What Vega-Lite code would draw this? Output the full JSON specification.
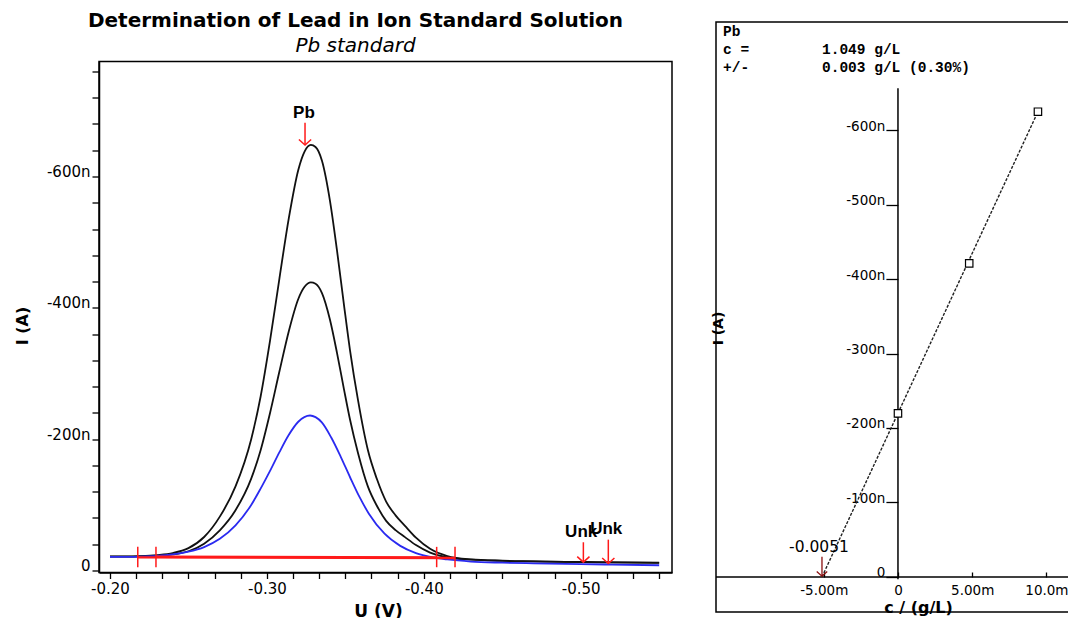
{
  "$schema": "https://vega.github.io/schema/vega-lite/v6.json",
  "autosize": {"type": "none"},
  "padding": {"left": 99, "top": 22, "right": 969, "bottom": 596},
  "background": "white",
  "bounds": "flush",
  "center": true,
  "spacing": 44,
  "datasets": {
    "curves": [
      {"U": -0.200, "I": -21.5, "s": "A"}, {"U": -0.210, "I": -21.5, "s": "A"}, {"U": -0.220, "I": -22.0, "s": "A"},
      {"U": -0.230, "I": -23.5, "s": "A"}, {"U": -0.240, "I": -26.5, "s": "A"}, {"U": -0.250, "I": -34.0, "s": "A"},
      {"U": -0.260, "I": -51.0, "s": "A"}, {"U": -0.270, "I": -82.0, "s": "A"}, {"U": -0.280, "I": -128.0, "s": "A"},
      {"U": -0.290, "I": -200.0, "s": "A"}, {"U": -0.296, "I": -265.0, "s": "A"}, {"U": -0.302, "I": -350.0, "s": "A"},
      {"U": -0.308, "I": -445.0, "s": "A"}, {"U": -0.314, "I": -537.0, "s": "A"}, {"U": -0.320, "I": -610.0, "s": "A"},
      {"U": -0.324, "I": -638.0, "s": "A"}, {"U": -0.328, "I": -648.0, "s": "A"}, {"U": -0.331, "I": -645.0, "s": "A"},
      {"U": -0.3351, "I": -624.0, "s": "A"}, {"U": -0.3402, "I": -563.0, "s": "A"}, {"U": -0.3447, "I": -487.0, "s": "A"},
      {"U": -0.3491, "I": -405.0, "s": "A"}, {"U": -0.353, "I": -335.0, "s": "A"}, {"U": -0.3581, "I": -259.0, "s": "A"},
      {"U": -0.3644, "I": -183.0, "s": "A"}, {"U": -0.370, "I": -140.0, "s": "A"}, {"U": -0.376, "I": -105.0, "s": "A"},
      {"U": -0.382, "I": -84.0, "s": "A"}, {"U": -0.388, "I": -68.0, "s": "A"}, {"U": -0.395, "I": -50.0, "s": "A"},
      {"U": -0.404, "I": -33.0, "s": "A"}, {"U": -0.415, "I": -22.0, "s": "A"}, {"U": -0.430, "I": -17.0, "s": "A"},
      {"U": -0.450, "I": -15.0, "s": "A"}, {"U": -0.470, "I": -14.0, "s": "A"}, {"U": -0.490, "I": -13.0, "s": "A"},
      {"U": -0.510, "I": -12.5, "s": "A"}, {"U": -0.530, "I": -12.0, "s": "A"}, {"U": -0.550, "I": -11.5, "s": "A"},
      {"U": -0.200, "I": -21.0, "s": "B"}, {"U": -0.210, "I": -21.0, "s": "B"}, {"U": -0.220, "I": -21.5, "s": "B"},
      {"U": -0.230, "I": -22.4, "s": "B"}, {"U": -0.240, "I": -24.4, "s": "B"}, {"U": -0.250, "I": -29.3, "s": "B"},
      {"U": -0.260, "I": -40.8, "s": "B"}, {"U": -0.270, "I": -61.2, "s": "B"}, {"U": -0.280, "I": -91.8, "s": "B"},
      {"U": -0.290, "I": -139.9, "s": "B"}, {"U": -0.296, "I": -183.2, "s": "B"}, {"U": -0.302, "I": -239.9, "s": "B"},
      {"U": -0.308, "I": -303.3, "s": "B"}, {"U": -0.314, "I": -364.8, "s": "B"}, {"U": -0.320, "I": -413.5, "s": "B"},
      {"U": -0.324, "I": -432.0, "s": "B"}, {"U": -0.328, "I": -438.7, "s": "B"}, {"U": -0.331, "I": -436.7, "s": "B"},
      {"U": -0.3351, "I": -422.5, "s": "B"}, {"U": -0.3402, "I": -381.9, "s": "B"}, {"U": -0.3447, "I": -331.1, "s": "B"},
      {"U": -0.3491, "I": -276.3, "s": "B"}, {"U": -0.353, "I": -229.5, "s": "B"}, {"U": -0.3581, "I": -178.7, "s": "B"},
      {"U": -0.3644, "I": -127.8, "s": "B"}, {"U": -0.370, "I": -99.0, "s": "B"}, {"U": -0.376, "I": -75.6, "s": "B"},
      {"U": -0.382, "I": -61.5, "s": "B"}, {"U": -0.388, "I": -50.8, "s": "B"}, {"U": -0.395, "I": -38.7, "s": "B"},
      {"U": -0.404, "I": -27.3, "s": "B"}, {"U": -0.415, "I": -19.8, "s": "B"}, {"U": -0.430, "I": -16.4, "s": "B"},
      {"U": -0.450, "I": -14.6, "s": "B"}, {"U": -0.470, "I": -13.8, "s": "B"}, {"U": -0.490, "I": -13.2, "s": "B"},
      {"U": -0.510, "I": -12.8, "s": "B"}, {"U": -0.530, "I": -12.4, "s": "B"}, {"U": -0.550, "I": -12.0, "s": "B"},
      {"U": -0.200, "I": -20.6, "s": "C"}, {"U": -0.210, "I": -20.7, "s": "C"}, {"U": -0.220, "I": -21.2, "s": "C"},
      {"U": -0.230, "I": -22.3, "s": "C"}, {"U": -0.240, "I": -24.5, "s": "C"}, {"U": -0.250, "I": -28.6, "s": "C"},
      {"U": -0.260, "I": -35.7, "s": "C"}, {"U": -0.270, "I": -48.2, "s": "C"}, {"U": -0.280, "I": -68.7, "s": "C"},
      {"U": -0.290, "I": -99.8, "s": "C"}, {"U": -0.296, "I": -124.7, "s": "C"}, {"U": -0.302, "I": -151.6, "s": "C"},
      {"U": -0.308, "I": -180.3, "s": "C"}, {"U": -0.314, "I": -206.7, "s": "C"}, {"U": -0.320, "I": -226.5, "s": "C"},
      {"U": -0.3275, "I": -236.0, "s": "C"}, {"U": -0.331, "I": -233.5, "s": "C"}, {"U": -0.335, "I": -225.5, "s": "C"},
      {"U": -0.341, "I": -202.5, "s": "C"}, {"U": -0.347, "I": -173.5, "s": "C"}, {"U": -0.353, "I": -142.0, "s": "C"},
      {"U": -0.359, "I": -112.0, "s": "C"}, {"U": -0.365, "I": -86.5, "s": "C"}, {"U": -0.375, "I": -56.0, "s": "C"},
      {"U": -0.385, "I": -37.5, "s": "C"}, {"U": -0.395, "I": -26.5, "s": "C"}, {"U": -0.405, "I": -20.3, "s": "C"},
      {"U": -0.415, "I": -16.8, "s": "C"}, {"U": -0.430, "I": -13.6, "s": "C"}, {"U": -0.450, "I": -11.9, "s": "C"},
      {"U": -0.470, "I": -10.9, "s": "C"}, {"U": -0.500, "I": -9.7, "s": "C"}, {"U": -0.520, "I": -9.0, "s": "C"},
      {"U": -0.550, "I": -8.0, "s": "C"}
    ],
    "baselines": [
      {"U": -0.2177, "I": -20.0, "g": "1"}, {"U": -0.4199, "I": -19.0, "g": "1"},
      {"U": -0.2293, "I": -21.0, "g": "2"}, {"U": -0.4082, "I": -20.0, "g": "2"}
    ],
    "limits": [
      {"U": -0.2177, "lo": -36, "hi": -5}, {"U": -0.2293, "lo": -36, "hi": -5},
      {"U": -0.4082, "lo": -36, "hi": -5}, {"U": -0.4199, "lo": -36, "hi": -5}
    ],
    "peaks": [
      {"U": -0.3243, "top": -682, "tip": -648, "name": "Pb", "labelU": -0.3236, "labelI": -697},
      {"U": -0.5017, "top": -43, "tip": -12.7, "name": "Unk", "labelU": -0.5003, "labelI": -58},
      {"U": -0.5176, "top": -47, "tip": -10.7, "name": "Unk", "labelU": -0.5163, "labelI": -62.5}
    ],
    "calib": [
      {"c": 0.0, "I": -219.7}, {"c": 4.8, "I": -421.0}, {"c": 9.43, "I": -624.6}
    ],
    "fit": [
      {"c": -5.12, "I": 0.0}, {"c": 9.43, "I": -624.6}
    ],
    "axislines": [
      {"c": 0.0, "c2": 0.0, "I": -656, "I2": 3},
      {"c": -12.26, "c2": 11.6, "I": 0, "I2": 0}
    ],
    "result": [
      {"c": -5.12, "top": -27, "tip": -1, "label": "-0.0051", "labelC": -5.32, "labelI": -40}
    ],
    "header": [
      {"c": -11.79, "I": -731.5, "t": "Pb"},
      {"c": -11.79, "I": -707, "t": "c ="},
      {"c": -11.79, "I": -683, "t": "+/-"},
      {"c": -5.12, "I": -707, "t": "1.049 g/L"},
      {"c": -5.12, "I": -683, "t": "0.003 g/L (0.30%)"}
    ]
  },
  "hconcat": [
    {
      "width": 573,
      "height": 511,
      "view": {"stroke": "black", "strokeWidth": 1.5},
      "title": {
        "text": "Determination of Lead in Ion Standard Solution",
        "subtitle": "Pb standard",
        "anchor": "middle",
        "dx": -30,
        "offset": 3,
        "font": "DejaVu Sans",
        "fontSize": 20,
        "fontWeight": "bold",
        "color": "black",
        "subtitleFont": "DejaVu Sans",
        "subtitleFontSize": 20,
        "subtitleFontStyle": "italic",
        "subtitleColor": "black",
        "subtitlePadding": 5
      },
      "layer": [
        {
          "data": {"name": "curves"},
          "mark": {"type": "line", "strokeWidth": 1.8, "interpolate": "monotone"},
          "encoding": {
            "x": {
              "field": "U", "type": "quantitative",
              "scale": {"domain": [-0.19299, -0.55819], "nice": false, "zero": false},
              "axis": {
                "values": [-0.2, -0.216667, -0.233333, -0.25, -0.266667, -0.283333, -0.3, -0.316667, -0.333333, -0.35, -0.366667, -0.383333, -0.4, -0.416667, -0.433333, -0.45, -0.466667, -0.483333, -0.5, -0.516667, -0.533333, -0.55],
                "tickCount": 100,
                "labelExpr": "abs(round(datum.value*100) % 10) == 0 ? '-0.' + toString(-round(datum.value*100)) : ''",
                "title": "U (V)",
                "titleX": 279, "titleY": 31, "titleBaseline": "top", "titleAlign": "center",
                "titleFont": "DejaVu Sans", "titleFontSize": 17, "titleFontWeight": "bold",
                "tickSize": 6, "labelPadding": 3, "labelFont": "DejaVu Sans", "labelFontSize": 15
              }
            },
            "y": {
              "field": "I", "type": "quantitative",
              "scale": {"domain": [3.05, -775.1], "nice": false, "zero": false},
              "axis": {
                "values": [0, -40, -80, -120, -160, -200, -240, -280, -320, -360, -400, -440, -480, -520, -560, -600, -640, -680, -720, -760],
                "tickCount": 100,
                "labelExpr": "datum.value % 200 == 0 ? (datum.value == 0 ? '0' : datum.value + 'n') : ''",
                "title": "I (A)",
                "titleX": -77, "titleY": 264, "titleAlign": "center", "titleBaseline": "middle",
                "titleFont": "DejaVu Sans", "titleFontSize": 16, "titleFontWeight": "bold",
                "tickSize": 7, "labelPadding": 2, "labelFont": "DejaVu Sans", "labelFontSize": 15, "labelBaseline": "alphabetic"
              }
            },
            "color": {
              "field": "s", "type": "nominal", "legend": null,
              "scale": {"domain": ["C", "B", "A"], "range": ["#2a2af0", "#111111", "#111111"]}
            }
          }
        },
        {
          "data": {"name": "baselines"},
          "mark": {"type": "line", "color": "#ff1a1a", "strokeWidth": 2.4},
          "encoding": {
            "x": {"field": "U", "type": "quantitative"},
            "y": {"field": "I", "type": "quantitative"},
            "detail": {"field": "g", "type": "nominal"}
          }
        },
        {
          "data": {"name": "limits"},
          "mark": {"type": "rule", "color": "#ff1a1a", "strokeWidth": 1.5},
          "encoding": {
            "x": {"field": "U", "type": "quantitative"},
            "y": {"field": "lo", "type": "quantitative"},
            "y2": {"field": "hi"}
          }
        },
        {
          "data": {"name": "peaks"},
          "mark": {"type": "rule", "color": "#ff1a1a", "strokeWidth": 1.5},
          "encoding": {
            "x": {"field": "U", "type": "quantitative"},
            "y": {"field": "top", "type": "quantitative"},
            "y2": {"field": "tip"}
          }
        },
        {
          "data": {"name": "peaks"},
          "mark": {"type": "point", "shape": "M-1,-0.9L0,0L1,-0.9", "filled": false, "color": "#ff1a1a", "strokeWidth": 1.5, "size": 150, "opacity": 1},
          "encoding": {
            "x": {"field": "U", "type": "quantitative"},
            "y": {"field": "tip", "type": "quantitative"}
          }
        },
        {
          "data": {"name": "peaks"},
          "mark": {"type": "text", "font": "Liberation Sans", "fontWeight": "bold", "fontSize": 17, "color": "black", "align": "center", "baseline": "middle"},
          "encoding": {
            "x": {"field": "labelU", "type": "quantitative"},
            "y": {"field": "labelI", "type": "quantitative"},
            "text": {"field": "name"}
          }
        }
      ]
    },
    {
      "width": 354,
      "height": 590,
      "view": {"stroke": "black", "strokeWidth": 1.5},
      "layer": [
        {
          "data": {"name": "axislines"},
          "mark": {"type": "rule", "color": "black", "strokeWidth": 1.5},
          "encoding": {
            "x": {
              "field": "c", "type": "quantitative",
              "scale": {"domain": [-12.26, 11.59], "nice": false, "zero": false},
              "axis": {
                "values": [-5, 0, 5, 10],
                "tickCount": 100,
                "labelExpr": "datum.value == -5 ? '-5.00m' : (datum.value == 0 ? '0' : (datum.value == 5 ? '5.00m' : '10.0m'))",
                "offset": -35, "domain": false,
                "tickSize": -5, "labelPadding": 11,
                "labelFont": "DejaVu Sans", "labelFontSize": 13.5,
                "title": "c / (g/L)", "titleX": 202, "titleY": 30, "titleBaseline": "middle", "titleAlign": "center",
                "titleFont": "DejaVu Sans", "titleFontSize": 16, "titleFontWeight": "bold"
              }
            },
            "x2": {"field": "c2"},
            "y": {
              "field": "I", "type": "quantitative",
              "scale": {"domain": [47, -745], "nice": false, "zero": false},
              "axis": {
                "values": [0, -100, -200, -300, -400, -500, -600],
                "tickCount": 100,
                "labelExpr": "datum.value == 0 ? '0' : datum.value + 'n'",
                "offset": -181.9, "domain": false,
                "tickSize": 12, "labelPadding": 1, "labelBaseline": "alphabetic",
                "labelFont": "DejaVu Sans", "labelFontSize": 13.5,
                "title": "I (A)", "titleX": -179, "titleY": 306, "titleAlign": "center", "titleBaseline": "middle",
                "titleFont": "DejaVu Sans", "titleFontSize": 14, "titleFontWeight": "bold"
              }
            },
            "y2": {"field": "I2"}
          }
        },
        {
          "data": {"name": "fit"},
          "mark": {"type": "line", "color": "#222222", "strokeWidth": 1.4, "strokeDash": [3, 1.5]},
          "encoding": {
            "x": {"field": "c", "type": "quantitative"},
            "y": {"field": "I", "type": "quantitative"}
          }
        },
        {
          "data": {"name": "calib"},
          "mark": {"type": "point", "shape": "square", "filled": true, "fill": "white", "stroke": "black", "strokeWidth": 1.2, "size": 55, "opacity": 1},
          "encoding": {
            "x": {"field": "c", "type": "quantitative"},
            "y": {"field": "I", "type": "quantitative"}
          }
        },
        {
          "data": {"name": "result"},
          "mark": {"type": "rule", "color": "#8b1010", "strokeWidth": 1.3},
          "encoding": {
            "x": {"field": "c", "type": "quantitative"},
            "y": {"field": "top", "type": "quantitative"},
            "y2": {"field": "tip"}
          }
        },
        {
          "data": {"name": "result"},
          "mark": {"type": "point", "shape": "M-1,-0.9L0,0L1,-0.9", "filled": false, "color": "#8b1010", "strokeWidth": 1.3, "size": 110, "opacity": 1},
          "encoding": {
            "x": {"field": "c", "type": "quantitative"},
            "y": {"field": "tip", "type": "quantitative"}
          }
        },
        {
          "data": {"name": "result"},
          "mark": {"type": "text", "font": "DejaVu Sans", "fontSize": 15.5, "color": "black", "align": "center", "baseline": "middle"},
          "encoding": {
            "x": {"field": "labelC", "type": "quantitative"},
            "y": {"field": "labelI", "type": "quantitative"},
            "text": {"field": "label"}
          }
        },
        {
          "data": {"name": "header"},
          "mark": {"type": "text", "font": "Liberation Mono", "fontWeight": "bold", "fontSize": 14.5, "color": "black", "align": "left", "baseline": "middle"},
          "encoding": {
            "x": {"field": "c", "type": "quantitative"},
            "y": {"field": "I", "type": "quantitative"},
            "text": {"field": "t"}
          }
        }
      ]
    }
  ],
  "config": {
    "font": "Liberation Sans",
    "axis": {
      "grid": false,
      "labelColor": "black",
      "tickColor": "black",
      "domainColor": "black",
      "titleColor": "black",
      "labelFont": "Liberation Sans",
      "titleFont": "Liberation Sans",
      "labelOverlap": false,
      "labelFlush": false,
      "tickWidth": 1.3,
      "domainWidth": 1.5
    }
  }
}
